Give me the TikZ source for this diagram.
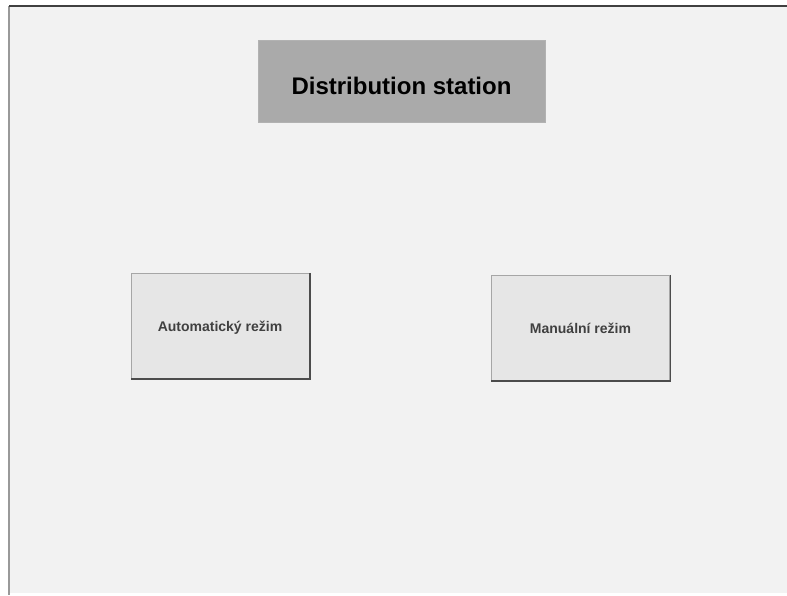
\documentclass[tikz,border=0pt]{standalone}
\usepackage{fontspec}
\setmainfont{Liberation Sans}
\definecolor{screenbg}{HTML}{F2F2F2}
\definecolor{titlegray}{HTML}{AAAAAA}
\definecolor{buttongray}{HTML}{E6E6E6}

\begin{document}
\begin{tikzpicture}[x=1pt,y=-1pt,
  titlebox/.style={fill=titlegray, draw=gray!60, minimum width=287pt, minimum height=82pt, text height=27pt, text depth=0pt, font=\fontsize{24}{28}\selectfont\bfseries},
  button/.style={fill=buttongray, draw=gray!70, minimum width=178pt, minimum height=105pt, text height=12pt, text depth=0pt, text=black!75, font=\fontsize{14}{16}\selectfont\bfseries}]
\useasboundingbox (0,0) rectangle (787,595);

% screen background and frame
\fill[white] (0,0) rectangle (787,595);
\fill[screenbg] (10,6) rectangle (787,593);
\draw[gray!80, line width=2pt] (9,6) -- (9,595);
\draw[black!75, line width=2pt] (9,6) -- (787,6);

% heading
\node[titlebox] (title) at (401.5,81) {Distribution station};

% mode buttons
\node[button] (auto) at (220,325.5) {Automatický režim};
\node[button] (manual) at (580.5,327.5) {Manuální režim};

% button shadows
\draw[black!70, line width=1.5pt] ([xshift=1pt]auto.north east) -- ([xshift=1pt,yshift=-1pt]auto.south east) -- ([yshift=-1pt]auto.south west);
\draw[black!70, line width=1.5pt] ([xshift=1pt]manual.north east) -- ([xshift=1pt,yshift=-1pt]manual.south east) -- ([yshift=-1pt]manual.south west);

\end{tikzpicture}
\end{document}
